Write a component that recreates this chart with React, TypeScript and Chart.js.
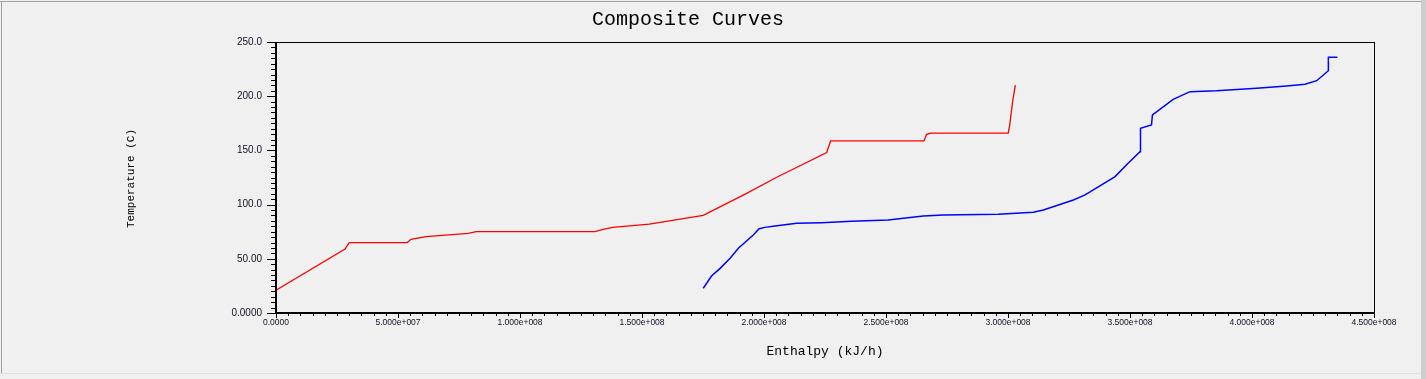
import React, { useEffect, useRef } from "react";
import { Chart, registerables } from "chart.js";

Chart.register(...registerables);

const hotEnthalpy = [0, 2.83e7, 3.0e7, 5.38e7, 5.53e7, 6.15e7, 7.88e7, 8.2e7, 1.307e8, 1.34e8, 1.38e8, 1.53e8, 1.751e8, 1.929e8, 2.052e8, 2.257e8, 2.273e8, 2.656e8, 2.666e8, 2.684e8, 3.001e8, 3.008e8, 3.018e8, 3.03e8];
const hotTemp = [21, 59, 65, 65, 68, 70.4, 73.5, 75, 75, 77.2, 79, 82, 90, 110.4, 125.2, 148, 158.7, 158.7, 164.8, 166, 166, 175, 193.4, 210.3];

const coldEnthalpy = [1.751e8, 1.785e8, 1.82e8, 1.861e8, 1.895e8, 1.956e8, 1.98e8, 2.004e8, 2.045e8, 2.134e8, 2.236e8, 2.359e8, 2.509e8, 2.653e8, 2.735e8, 2.96e8, 3.104e8, 3.145e8, 3.268e8, 3.316e8, 3.439e8, 3.489e8, 3.541e8, 3.543e8, 3.588e8, 3.592e8, 3.677e8, 3.746e8, 3.855e8, 4.019e8, 4.142e8, 4.217e8, 4.265e8, 4.313e8, 4.313e8, 4.35e8];
const coldTemp = [22.8, 34.1, 41.2, 50.5, 59.7, 72, 77.8, 79, 80.3, 82.7, 83.3, 84.6, 85.8, 89.5, 90.4, 91, 92.9, 95, 104.2, 108.9, 125.8, 137.5, 148.8, 170.4, 173.4, 182.7, 197.1, 204.2, 205.1, 207.3, 209.4, 211, 214.3, 223.5, 235.9, 235.9];

const xTickValues = [0, 5e7, 1e8, 1.5e8, 2e8, 2.5e8, 3e8, 3.5e8, 4e8, 4.5e8];
const xTickLabels = ["0.0000", "5.000e+007", "1.000e+008", "1.500e+008", "2.000e+008", "2.500e+008", "3.000e+008", "3.500e+008", "4.000e+008", "4.500e+008"];
const yTickValues = [0, 50, 100, 150, 200, 250];
const yTickLabels = ["0.0000", "50.00", "100.0", "150.0", "200.0", "250.0"];

const chartTitle = "Composite Curves";
const xTitle = "Enthalpy (kJ/h)";
const yTitle = "Temperature (C)";

const framePlugin = {
  id: "frame",
  beforeDraw(chart: any) {
    const { ctx, width, height } = chart;
    ctx.save();
    ctx.fillStyle = "#f0f0f0";
    ctx.fillRect(0, 0, width, height);
    ctx.fillStyle = "#a0a0a0";
    ctx.fillRect(0, 1, width - 5, 1);
    ctx.fillRect(1, 1, 1, height - 6);
    ctx.fillStyle = "#cdcdcd";
    ctx.fillRect(width - 5, 0, 5, height);
    ctx.fillStyle = "#e2e2e2";
    ctx.fillRect(0, height - 6, width - 5, 1);
    ctx.restore();
  },
  afterDraw(chart: any) {
    const { ctx, chartArea } = chart;
    const xs = chart.scales.x;
    const ys = chart.scales.y;
    const L = Math.round(chartArea.left);
    const R = Math.round(chartArea.right);
    const T = Math.round(chartArea.top);
    const B = Math.round(chartArea.bottom);
    ctx.save();
    ctx.fillStyle = "#000";
    // box
    ctx.fillRect(L, T, R - L + 1, 1);
    ctx.fillRect(R, T, 1, B - T);
    ctx.fillRect(L - 1, T, 2, B - T + 1);
    ctx.fillRect(L - 1, B - 1, R - L + 2, 2);
    // y ticks
    for (let v = 0; v <= 250; v += 5) {
      const py = Math.round(ys.getPixelForValue(v));
      const major = v % 50 === 0;
      const len = major ? 9 : 5;
      ctx.fillRect(L - len, py, len, 1);
    }
    // x ticks
    for (let i = 0; i <= 90; i++) {
      const v = i * 5e6;
      const px = Math.round(xs.getPixelForValue(v));
      const major = i % 10 === 0;
      const len = major ? 4 : 2;
      ctx.fillRect(px, B + 1, 1, len);
    }
    // tick labels
    ctx.fillStyle = "#101028";
    ctx.font = "10px 'Liberation Sans'";
    ctx.textAlign = "right";
    ctx.textBaseline = "middle";
    yTickValues.forEach((v, i) => {
      ctx.fillText(yTickLabels[i], L - 14, ys.getPixelForValue(v));
    });
    ctx.font = "8.5px 'Liberation Sans'";
    ctx.textAlign = "center";
    ctx.textBaseline = "middle";
    xTickValues.forEach((v, i) => {
      ctx.fillText(xTickLabels[i], xs.getPixelForValue(v), B + 10);
    });
    // titles
    ctx.fillStyle = "#000";
    ctx.font = "20px 'Liberation Mono'";
    ctx.textAlign = "center";
    ctx.textBaseline = "middle";
    ctx.fillText(chartTitle, 688, 20);
    ctx.font = "13px 'Liberation Mono'";
    ctx.fillText(xTitle, (L + R) / 2, 352);
    ctx.save();
    ctx.translate(131, (T + B) / 2 + 1);
    ctx.rotate(-Math.PI / 2);
    ctx.font = "11px 'Liberation Mono'";
    ctx.fillText(yTitle, 0, 0);
    ctx.restore();
    ctx.restore();
  },
};

export default function App() {
  const canvasRef = useRef<HTMLCanvasElement | null>(null);

  useEffect(() => {
    document.body.style.margin = "0";
    const canvas = canvasRef.current;
    if (!canvas) return;
    const chart = new Chart(canvas, {
      type: "scatter",
      data: {
        datasets: [
          {
            label: "Hot",
            data: hotEnthalpy.map((x, i) => ({ x, y: hotTemp[i] })),
            showLine: true,
            borderColor: "#ff0000",
            backgroundColor: "#ff0000",
            borderWidth: 1.3,
            pointRadius: 0,
            tension: 0,
          },
          {
            label: "Cold",
            data: coldEnthalpy.map((x, i) => ({ x, y: coldTemp[i] })),
            showLine: true,
            borderColor: "#0000ff",
            backgroundColor: "#0000ff",
            borderWidth: 1.5,
            pointRadius: 0,
            tension: 0,
          },
        ],
      },
      options: {
        animation: false,
        responsive: false,
        devicePixelRatio: 1,
        layout: { padding: { left: 276, top: 42, right: 52, bottom: 66 } },
        scales: {
          x: { type: "linear", min: 0, max: 4.5e8, display: false },
          y: { type: "linear", min: 0, max: 250, display: false },
        },
        plugins: {
          legend: { display: false },
          tooltip: { enabled: false },
          title: { display: false },
        },
      },
      plugins: [framePlugin],
    });
    return () => chart.destroy();
  }, []);

  return (
    <div style={{ position: "absolute", left: 0, top: 0, width: 1426, height: 379 }}>
      <canvas ref={canvasRef} width={1426} height={379} style={{ display: "block", width: 1426, height: 379 }} />
    </div>
  );
}
